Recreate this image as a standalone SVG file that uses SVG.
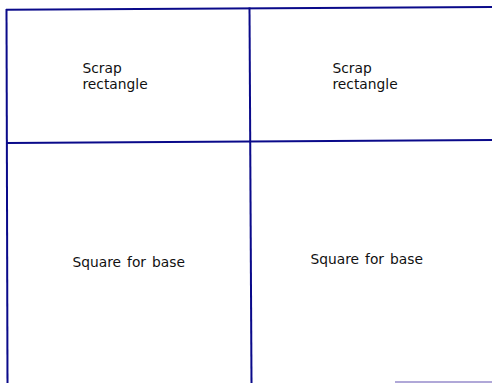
<svg xmlns="http://www.w3.org/2000/svg" width="492" height="383" viewBox="0 0 492 383">
<style>
.ln{stroke:#0a0a8a;stroke-width:2;fill:none}
.t{font-family:"DejaVu Sans",sans-serif;font-size:13.8px;fill:#111}
.w{word-spacing:1.6px}
</style>
<rect width="492" height="383" fill="#fff"/>
<g id="connectors">
<line class="ln" x1="6" y1="9.8" x2="492" y2="7"/>
<line class="ln" x1="6.5" y1="9" x2="7.5" y2="383"/>
<line class="ln" x1="249.5" y1="7.5" x2="251.5" y2="383"/>
<line class="ln" x1="7" y1="143" x2="492" y2="140"/>
<line x1="395" y1="382" x2="492" y2="382" stroke="#b0a8d8" stroke-width="2"/>
</g>
<g id="scrap1"><text class="t" x="82.5" y="73.3">Scrap</text><text class="t" x="82.5" y="89.3">rectangle</text></g>
<g id="scrap2"><text class="t" x="332.5" y="73.3">Scrap</text><text class="t" x="332.5" y="89.3">rectangle</text></g>
<g id="base1"><text class="t w" x="72.5" y="266.5">Square for base</text></g>
<g id="base2"><text class="t w" x="310.5" y="264">Square for base</text></g>
</svg>
